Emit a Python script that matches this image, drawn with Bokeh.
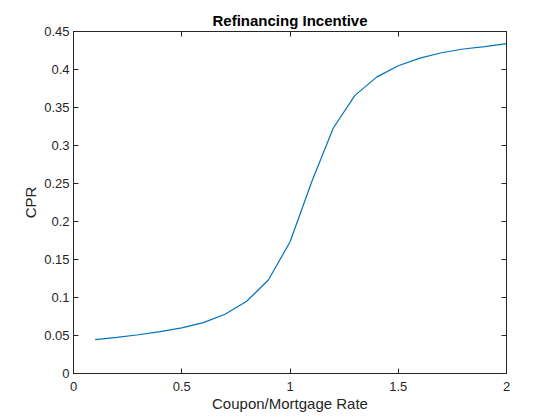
from bokeh.plotting import figure
from bokeh.models import LinearAxis, Range1d, FixedTicker
from bokeh.embed import file_html
from bokeh.resources import INLINE

ratio = [0.1, 0.2, 0.3, 0.4, 0.5, 0.6, 0.7, 0.8, 0.9, 1.0,
         1.1, 1.2, 1.3, 1.4, 1.5, 1.6, 1.7, 1.8, 1.9, 2.0]
cpr = [0.0445, 0.0475, 0.051, 0.055, 0.060, 0.067, 0.078, 0.095, 0.123, 0.173,
       0.252, 0.323, 0.366, 0.390, 0.405, 0.415, 0.422, 0.427, 0.430, 0.434]
xticks = [0, 0.5, 1, 1.5, 2]
yticks = [0, 0.05, 0.1, 0.15, 0.2, 0.25, 0.3, 0.35, 0.4, 0.45]

FONT = "Liberation Sans"
AX = "#262626"

p = figure(width=552, height=413, output_backend="svg", toolbar_location=None,
           x_range=Range1d(0, 2), y_range=Range1d(0, 0.45),
           min_border_left=73, min_border_right=46, min_border_top=31, min_border_bottom=40,
           frame_width=433, frame_height=342,
           title="Refinancing Incentive")
p.title.text_font = FONT
p.title.text_font_size = "15px"
p.title.text_font_style = "bold"
p.title.text_color = "#000000"
p.title.align = "center"
p.title.standoff = 5
p.grid.visible = False
p.outline_line_color = AX
p.outline_line_width = 1
p.background_fill_color = "white"
p.border_fill_color = "white"

p.line(ratio, cpr, line_color="#0072BD", line_width=1.2)

def style(ax, labels=True):
    ax.axis_line_color = AX
    ax.major_tick_line_color = AX
    ax.major_tick_in = 5
    ax.major_tick_out = 0
    ax.minor_tick_line_color = None
    ax.major_label_text_font = FONT
    ax.major_label_text_font_size = "13px"
    ax.major_label_text_color = AX
    ax.axis_label_text_font = FONT
    ax.axis_label_text_font_size = "15px"
    ax.axis_label_text_font_style = "normal"
    ax.axis_label_text_color = AX
    if not labels:
        ax.major_label_text_font_size = "0px"
        ax.major_label_text_color = None

p.xaxis.ticker = FixedTicker(ticks=xticks)
p.yaxis.ticker = FixedTicker(ticks=yticks)
p.xaxis.major_label_overrides = {0: "0", 0.5: "0.5", 1: "1", 1.5: "1.5", 2: "2"}
p.yaxis.major_label_overrides = {0: "0", 0.05: "0.05", 0.1: "0.1", 0.15: "0.15", 0.2: "0.2",
                                 0.25: "0.25", 0.3: "0.3", 0.35: "0.35", 0.4: "0.4", 0.45: "0.45"}
p.xaxis.axis_label = "Coupon/Mortgage Rate"
p.yaxis.axis_label = "CPR"
style(p.xaxis[0])
style(p.yaxis[0])
p.xaxis.major_label_standoff = 8
p.yaxis.major_label_standoff = 4
p.xaxis.axis_label_standoff = 1
p.yaxis.axis_label_standoff = 2

top = LinearAxis(ticker=FixedTicker(ticks=xticks))
right = LinearAxis(ticker=FixedTicker(ticks=yticks))
style(top, labels=False)
style(right, labels=False)
top.major_label_standoff = 0
right.major_label_standoff = 0
p.add_layout(top, "above")
p.add_layout(right, "right")

open("out.html", "w").write(file_html(p, INLINE))
